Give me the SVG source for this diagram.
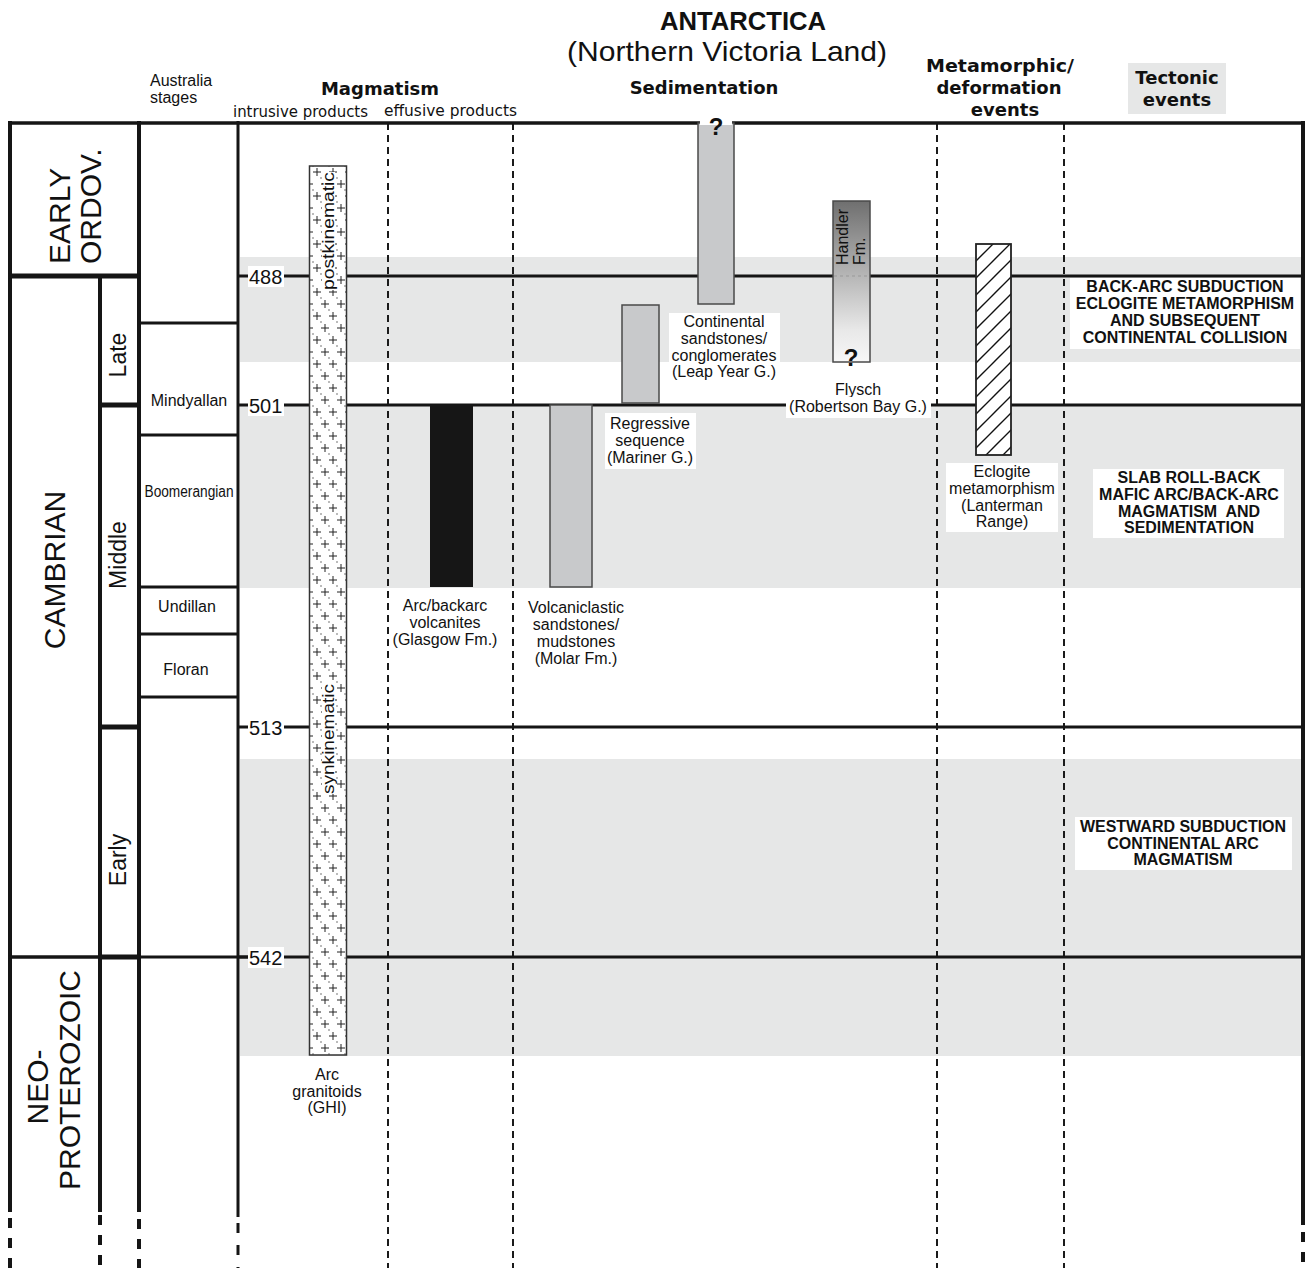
<svg xmlns="http://www.w3.org/2000/svg" width="1309" height="1268" viewBox="0 0 1309 1268">
<style>
.a{font-family:"Liberation Sans",Arial,sans-serif;fill:#111}
.c{font-family:"DejaVu Sans",sans-serif;fill:#111}
.m{text-anchor:middle}
.lab{font-size:16px}
.tec{font-size:16px;font-weight:bold}
.age{font-size:20px}
.era{font-size:30px}
.sub{font-size:23px}
.stg{font-size:16px}
.band{fill:#e6e7e7}
.bg{fill:#fff}
.ln{stroke:#151515;fill:none}
.dv{stroke:#1a1a1a;stroke-width:2;stroke-dasharray:7 5;fill:none}
.bar{fill:#c8c9cb;stroke:#4a4a4a;stroke-width:1.5}
.q{font-size:24px;font-weight:bold}
</style>
<defs>
<pattern id="granite" patternUnits="userSpaceOnUse" x="309" y="166" width="16" height="24">
<rect width="16" height="24" fill="#fff"/>
<path d="M4 6h8M8 2v8M-4 18h8M0 14v8M12 18h8M16 14v8" stroke="#222" stroke-width="1" fill="none"/>
<circle cx="12" cy="12" r="0.7" fill="#444"/>
<circle cx="4" cy="0" r="0.7" fill="#444"/>
<circle cx="4" cy="24" r="0.7" fill="#444"/>
</pattern>
<pattern id="hatch" patternUnits="userSpaceOnUse" x="976" y="244" width="17" height="17">
<rect width="17" height="17" fill="#fff"/>
<path d="M0 17L17 0M-1 1L1 -1M16 18L18 16" stroke="#111" stroke-width="1.4" fill="none"/>
</pattern>
<linearGradient id="handlerGrad" x1="0" y1="0" x2="0" y2="1">
<stop offset="0" stop-color="#6f6f6f"/>
<stop offset="0.45" stop-color="#b4b4b4"/>
<stop offset="0.8" stop-color="#e8e8e8"/>
<stop offset="1" stop-color="#f7f7f7"/>
</linearGradient>
</defs>

<rect width="1309" height="1268" fill="#fff"/>

<g id="bands">
<rect class="band" x="240" y="257" width="1063" height="105"/>
<rect class="band" x="240" y="405" width="1063" height="183"/>
<rect class="band" x="240" y="759" width="1063" height="297"/>
</g>

<g id="header">
<text class="a m" x="743" y="30" font-size="26" font-weight="bold" textLength="166" lengthAdjust="spacingAndGlyphs">ANTARCTICA</text>
<text class="a m" x="727" y="61" font-size="28" textLength="320" lengthAdjust="spacingAndGlyphs">(Northern Victoria Land)</text>
<text class="a stg" x="150" y="86">Australia</text>
<text class="a stg" x="150" y="103">stages</text>
<text class="c m" x="380" y="95" font-size="18" font-weight="bold">Magmatism</text>
<text class="c" x="233" y="117" font-size="15" textLength="135" lengthAdjust="spacingAndGlyphs">intrusive products</text>
<text class="c" x="384" y="116" font-size="15" textLength="133" lengthAdjust="spacingAndGlyphs">effusive products</text>
<text class="c m" x="704" y="94" font-size="18" font-weight="bold">Sedimentation</text>
<text class="c m" x="1000" y="72" font-size="18" font-weight="bold" textLength="148" lengthAdjust="spacingAndGlyphs">Metamorphic/</text>
<text class="c m" x="999" y="94" font-size="18" font-weight="bold">deformation</text>
<text class="c m" x="1005" y="116" font-size="18" font-weight="bold">events</text>
<rect x="1128" y="63" width="98" height="51" fill="#e6e7e7"/>
<text class="c m" x="1177" y="84" font-size="18" font-weight="bold">Tectonic</text>
<text class="c m" x="1177" y="106" font-size="18" font-weight="bold">events</text>
</g>

<g id="connectors">
<path class="dv" d="M388 123V1268M513 123V1268M937 123V1268M1064 123V1268"/>
<path class="ln" stroke-width="4" d="M10 121V1212M100 276V1212M139 121V1212M1303 121V1225"/>
<path class="ln" stroke-width="3" d="M238 121V1217"/>
<path class="ln" stroke-width="4" stroke-dasharray="10 10" d="M10 1218V1268M100 1215V1268M139 1219V1268M1303 1232V1268"/>
<path class="ln" stroke-width="3" stroke-dasharray="10 12" d="M238 1223V1268"/>
<path class="ln" stroke-width="3.5" d="M8 123H1305"/>
<path class="ln" stroke-width="5" d="M8 276H141M100 405H141M100 727H141M100 957H141"/>
<path class="ln" stroke-width="3.5" d="M8 957H100"/>
<path class="ln" stroke-width="3" d="M139 323H238M139 435H238M139 587H238M139 634H238M139 697H238M139 957H249"/>
<path class="ln" stroke-width="3" d="M238 276H249M283 276H1303M238 405H249M283 405H1303M238 727H249M283 727H1303M238 957H249M283 957H1303"/>
</g>

<g id="ages">
<rect class="bg" x="248" y="266" width="36" height="21"/>
<text class="a age" x="249" y="284">488</text>
<rect class="bg" x="248" y="395" width="36" height="21"/>
<text class="a age" x="249" y="413">501</text>
<rect class="bg" x="248" y="717" width="36" height="21"/>
<text class="a age" x="249" y="735">513</text>
<rect class="bg" x="248" y="947" width="36" height="21"/>
<text class="a age" x="249" y="965">542</text>
</g>

<g id="eras">
<text class="a era" transform="translate(70,264) rotate(-90)">EARLY</text>
<text class="a era" transform="translate(101,264) rotate(-90)">ORDOV.</text>
<text class="a era m" transform="translate(65,570) rotate(-90)">CAMBRIAN</text>
<text class="a era m" transform="translate(48,1087) rotate(-90)">NEO-</text>
<text class="a era m" transform="translate(80,1080) rotate(-90)">PROTEROZOIC</text>
<text class="a sub m" transform="translate(126,355) rotate(-90)">Late</text>
<text class="a sub m" transform="translate(126,555) rotate(-90)">Middle</text>
<text class="a sub m" transform="translate(126,860) rotate(-90)">Early</text>
</g>

<g id="stages">
<text class="a stg m" x="189" y="406">Mindyallan</text>
<text class="a stg m" x="189" y="497" textLength="89" lengthAdjust="spacingAndGlyphs">Boomerangian</text>
<text class="a stg m" x="187" y="612">Undillan</text>
<text class="a stg m" x="186" y="675">Floran</text>
</g>

<g id="granitoids">
<rect x="309.5" y="166" width="37" height="889" fill="url(#granite)" stroke="#333" stroke-width="1.5"/>
<rect class="bg" x="322" y="172" width="13" height="118"/>
<rect class="bg" x="322" y="684" width="13" height="110"/>
<text class="a m" font-size="16" transform="translate(334,231) rotate(-90)" textLength="118" lengthAdjust="spacingAndGlyphs">postkinematic</text>
<text class="a m" font-size="16" transform="translate(334,739) rotate(-90)" textLength="110" lengthAdjust="spacingAndGlyphs">synkinematic</text>
<text class="a lab m" x="327" y="1080">Arc</text>
<text class="a lab m" x="327" y="1097">granitoids</text>
<text class="a lab m" x="327" y="1113">(GHI)</text>
</g>

<g id="glasgow">
<rect x="430" y="405" width="43" height="182" fill="#161616"/>
<text class="a lab m" x="445" y="611">Arc/backarc</text>
<text class="a lab m" x="445" y="628">volcanites</text>
<text class="a lab m" x="445" y="645">(Glasgow Fm.)</text>
</g>

<g id="molar">
<rect class="bar" x="550" y="405" width="42" height="182"/>
<text class="a lab m" x="576" y="613">Volcaniclastic</text>
<text class="a lab m" x="576" y="630">sandstones/</text>
<text class="a lab m" x="576" y="647">mudstones</text>
<text class="a lab m" x="576" y="664">(Molar Fm.)</text>
</g>

<g id="mariner">
<rect class="bar" x="622" y="305" width="37" height="98"/>
<rect class="bg" x="605" y="413" width="91" height="56"/>
<text class="a lab m" x="650" y="429">Regressive</text>
<text class="a lab m" x="650" y="446">sequence</text>
<text class="a lab m" x="650" y="463">(Mariner G.)</text>
</g>

<g id="leapyear">
<rect class="bar" x="698" y="123" width="36" height="181"/>
<rect class="bg" x="700" y="119" width="32" height="6"/>
<text class="a q m" x="716" y="135">?</text>
<rect class="bg" x="669" y="313" width="111" height="65"/>
<text class="a lab m" x="724" y="327">Continental</text>
<text class="a lab m" x="724" y="344">sandstones/</text>
<text class="a lab m" x="724" y="361">conglomerates</text>
<text class="a lab m" x="724" y="377">(Leap Year G.)</text>
</g>

<g id="robertsonbay">
<rect x="833" y="201" width="37" height="161" fill="url(#handlerGrad)" stroke="#4a4a4a" stroke-width="1.5"/>
<path d="M834 276H869" stroke="#999" stroke-width="1" stroke-dasharray="3 3"/>
<text class="a lab" transform="translate(848,265) rotate(-90)">Handler</text>
<text class="a lab" transform="translate(865,265) rotate(-90)">Fm.</text>
<text class="a q m" x="851" y="366">?</text>
<text class="a lab m" x="858" y="395">Flysch</text>
<rect class="bg" x="786" y="397" width="145" height="21"/>
<text class="a lab m" x="858" y="412">(Robertson Bay G.)</text>
</g>

<g id="eclogite">
<rect x="976" y="244" width="35" height="211" fill="url(#hatch)" stroke="#222" stroke-width="1.8"/>
<rect class="bg" x="946" y="463" width="112" height="69"/>
<text class="a lab m" x="1002" y="477">Eclogite</text>
<text class="a lab m" x="1002" y="494">metamorphism</text>
<text class="a lab m" x="1002" y="511">(Lanterman</text>
<text class="a lab m" x="1002" y="527">Range)</text>
</g>

<g id="tectonic-late">
<rect class="bg" x="1070" y="278" width="230" height="71"/>
<text class="a tec m" x="1185" y="292">BACK-ARC SUBDUCTION</text>
<text class="a tec m" x="1185" y="309">ECLOGITE METAMORPHISM</text>
<text class="a tec m" x="1185" y="326">AND SUBSEQUENT</text>
<text class="a tec m" x="1185" y="343">CONTINENTAL COLLISION</text>
</g>

<g id="tectonic-middle">
<rect class="bg" x="1093" y="469" width="191" height="69"/>
<text class="a tec m" x="1189" y="483">SLAB ROLL-BACK</text>
<text class="a tec m" x="1189" y="500">MAFIC ARC/BACK-ARC</text>
<text class="a tec m" x="1189" y="517" xml:space="preserve">MAGMATISM  AND</text>
<text class="a tec m" x="1189" y="533">SEDIMENTATION</text>
</g>

<g id="tectonic-early">
<rect class="bg" x="1075" y="817" width="217" height="53"/>
<text class="a tec m" x="1183" y="832">WESTWARD SUBDUCTION</text>
<text class="a tec m" x="1183" y="849">CONTINENTAL ARC</text>
<text class="a tec m" x="1183" y="865">MAGMATISM</text>
</g>
</svg>
